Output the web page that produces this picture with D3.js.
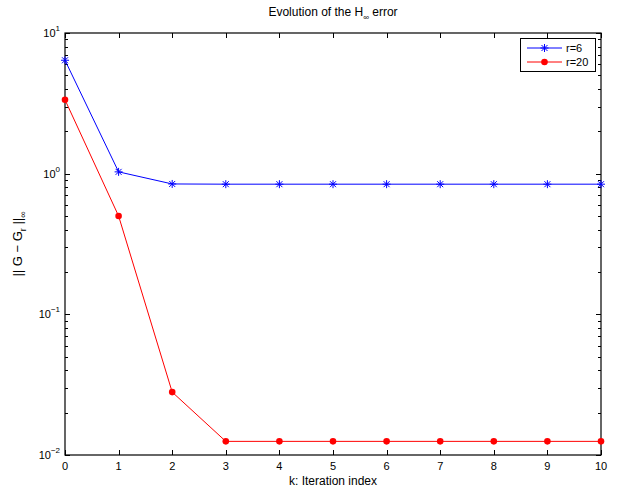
<!DOCTYPE html>
<html>
<head>
<meta charset="utf-8">
<script src="https://cdn.jsdelivr.net/npm/d3@7"></script>
<style>
  body { margin: 0; background: #fff; }
  text { font-family: "Liberation Sans", Arial, sans-serif; fill: #000; }
</style>
</head>
<body>
<div id="chart"></div>
<script>
let w = 621;
let h = 497;
let margin = {top: 33, right: 20, bottom: 42, left: 65};

// data
const iterations = [0, 1, 2, 3, 4, 5, 6, 7, 8, 9, 10];
const errR6 = [6.4, 1.03, 0.845, 0.842, 0.842, 0.842, 0.842, 0.842, 0.842, 0.842, 0.842];
const errR20 = [3.35, 0.50, 0.028, 0.0125, 0.0125, 0.0125, 0.0125, 0.0125, 0.0125, 0.0125, 0.0125];
const xTicks = [0, 1, 2, 3, 4, 5, 6, 7, 8, 9, 10];
const yDecades = [-2, -1, 0, 1];

let svg = d3.select("#chart")
    .append("svg")
    .attr("width", w)
    .attr("height", h);

let xScale = d3.scaleLinear()
    .domain([0, 10])
    .range([margin.left, w - margin.right - 0]);

let yScale = d3.scaleLog()
    .domain([0.01, 10])
    .range([h - margin.bottom, margin.top]);

let x0 = xScale.range()[0], x1 = xScale.range()[1];
let y0 = yScale.range()[0], y1 = yScale.range()[1];

// ticks (inward, on all sides)
let minor = [];
yDecades.slice(0, 3).forEach(d => {
    for (let m = 2; m <= 9; m++) minor.push(m * Math.pow(10, d));
});
let tickG = svg.append("g").attr("stroke", "#000").attr("stroke-width", 1);
xTicks.forEach(t => {
    let x = Math.round(xScale(t)) + 0.5;
    tickG.append("line").attr("x1", x).attr("x2", x).attr("y1", y0).attr("y2", y0 - 5);
    tickG.append("line").attr("x1", x).attr("x2", x).attr("y1", y1).attr("y2", y1 + 5);
});
yDecades.forEach(d => {
    let y = Math.round(yScale(Math.pow(10, d))) + 0.5;
    tickG.append("line").attr("x1", x0).attr("x2", x0 + 5).attr("y1", y).attr("y2", y);
    tickG.append("line").attr("x1", x1).attr("x2", x1 - 5).attr("y1", y).attr("y2", y);
});
minor.forEach(v => {
    let y = Math.round(yScale(v)) + 0.5;
    tickG.append("line").attr("x1", x0).attr("x2", x0 + 3).attr("y1", y).attr("y2", y);
    tickG.append("line").attr("x1", x1).attr("x2", x1 - 3).attr("y1", y).attr("y2", y);
});

// axes box
svg.append("rect")
    .attr("x", x0).attr("y", y1)
    .attr("width", x1 - x0).attr("height", y0 - y1)
    .attr("fill", "none").attr("stroke", "#000").attr("stroke-width", 1.2);

// tick labels
svg.selectAll(".xlab")
    .data(xTicks)
    .enter()
    .append("text")
    .attr("x", d => xScale(d))
    .attr("y", y0 + 15)
    .attr("text-anchor", "middle")
    .style("font-size", "11px")
    .text(d => d);

yDecades.forEach(d => {
    let t = svg.append("text")
        .attr("x", x0 - 5)
        .attr("y", yScale(Math.pow(10, d)) + 4)
        .attr("text-anchor", "end")
        .style("font-size", "11px");
    t.append("tspan").text("10");
    t.append("tspan").attr("dy", -6).style("font-size", "8px").text(d < 0 ? "\u2212" + (-d) : d);
});

// lines + markers
let line = d3.line()
    .x(d => xScale(d[0]))
    .y(d => yScale(d[1]));

let blue = iterations.map((k, i) => [k, errR6[i]]);
let red = iterations.map((k, i) => [k, errR20[i]]);

svg.append("path").datum(blue).attr("d", line)
    .attr("fill", "none").attr("stroke", "#0000ff").attr("stroke-width", 1);
svg.append("path").datum(red).attr("d", line)
    .attr("fill", "none").attr("stroke", "#ff0000").attr("stroke-width", 1);

function star(g, x, y, s) {
    let p = g.append("g").attr("transform", "translate(" + x + "," + y + ")")
        .attr("stroke", "#0000ff").attr("stroke-width", 1);
    p.append("line").attr("x1", -s).attr("x2", s).attr("y1", 0).attr("y2", 0);
    p.append("line").attr("x1", 0).attr("x2", 0).attr("y1", -s).attr("y2", s);
    let q = s * 0.75;
    p.append("line").attr("x1", -q).attr("x2", q).attr("y1", -q).attr("y2", q);
    p.append("line").attr("x1", -q).attr("x2", q).attr("y1", q).attr("y2", -q);
}

blue.forEach(d => star(svg, xScale(d[0]), yScale(d[1]), 4));

svg.selectAll(".dot")
    .data(red)
    .enter()
    .append("circle")
    .attr("class", "dot")
    .attr("cx", d => xScale(d[0]))
    .attr("cy", d => yScale(d[1]))
    .attr("r", 3.3)
    .attr("fill", "#ff0000");

// legend
let lg = svg.append("g");
lg.append("rect")
    .attr("x", 520.5).attr("y", 38.5).attr("width", 75).attr("height", 33)
    .attr("fill", "#fff").attr("stroke", "#000").attr("stroke-width", 1);
lg.append("line").attr("x1", 527).attr("x2", 562).attr("y1", 48).attr("y2", 48)
    .attr("stroke", "#0000ff");
star(lg, 544.5, 48, 4);
lg.append("text").attr("x", 566).attr("y", 52).style("font-size", "11px").text("r=6");
lg.append("line").attr("x1", 527).attr("x2", 562).attr("y1", 62).attr("y2", 62)
    .attr("stroke", "#ff0000");
lg.append("circle").attr("cx", 544.5).attr("cy", 62).attr("r", 3.3).attr("fill", "#ff0000");
lg.append("text").attr("x", 566).attr("y", 66).style("font-size", "11px").text("r=20");

// title
let title = svg.append("text")
    .attr("x", (x0 + x1) / 2)
    .attr("y", 16)
    .attr("text-anchor", "middle")
    .style("font-size", "12px");
title.append("tspan").text("Evolution of the H");
title.append("tspan").attr("dy", 4).style("font-size", "8px").text("\u221e");
title.append("tspan").attr("dy", -4).text(" error");

// x label
svg.append("text")
    .attr("x", (x0 + x1) / 2)
    .attr("y", 485)
    .attr("text-anchor", "middle")
    .style("font-size", "12px")
    .text("k: Iteration index");

// y label
let yl = svg.append("text")
    .attr("transform", "translate(22," + ((y0 + y1) / 2) + ") rotate(-90)")
    .attr("text-anchor", "middle")
    .style("font-size", "13px");
yl.append("tspan").text("|| G \u2212 G");
yl.append("tspan").attr("dy", 4).style("font-size", "9px").text("r");
yl.append("tspan").attr("dy", -4).text(" ||");
yl.append("tspan").attr("dy", 4).style("font-size", "9px").text("\u221e");
</script>
</body>
</html>
